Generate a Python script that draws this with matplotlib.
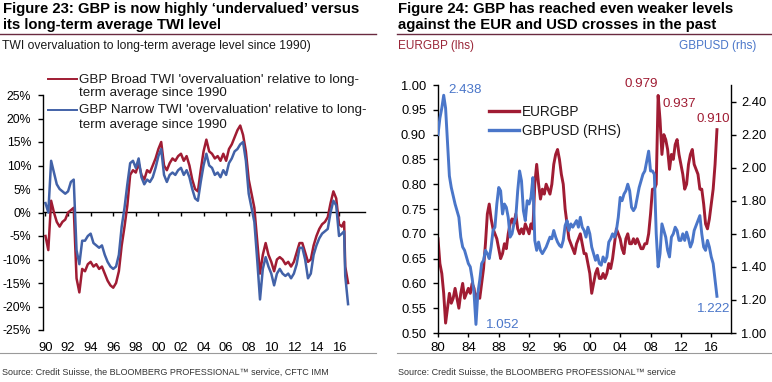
import numpy as np
import matplotlib
matplotlib.use('Agg')
import matplotlib.pyplot as plt
from matplotlib.lines import Line2D

plt.rcParams['font.family'] = ['Liberation Sans', 'DejaVu Sans']
plt.rcParams['axes.unicode_minus'] = False

# ---------------- data: left chart (GBP TWI overvaluation, %) ----------------
left_dates = np.concatenate([np.arange(1990, 2016.3, 0.25), [2016.45, 2016.55, 2016.8]])
twi_broad = [
    -5, -8, 2.5, 0,            # 1990
    -2, -3, -2, -1.5,          # 1991
    0, 0.5, 1, -14,            # 1992
    -17, -12, -12.5, -11,      # 1993
    -10.5, -11.5, -11, -12,    # 1994
    -11.5, -13, -14.5, -15.5,  # 1995
    -16, -15, -12.5, -7,       # 1996
    -3, 1.5, 8, 9,             # 1997
    8.5, 10.5, 8, 7,           # 1998
    9, 8.5, 10, 11.5,          # 1999
    13.5, 15, 10, 9,           # 2000
    10.5, 11.5, 11, 12,        # 2001
    12.5, 11, 12, 10,          # 2002
    7, 5, 4.5, 9,              # 2003
    13, 15.5, 13, 12.5,        # 2004
    11.5, 12, 11, 12.5,        # 2005
    11, 13.5, 14.5, 16,        # 2006
    17.5, 18.5, 16.5, 13,      # 2007
    7, 4, 1, -6,               # 2008
    -13, -9, -6.5, -9,         # 2009
    -10.5, -12.5, -10, -9.5,   # 2010
    -10, -11, -10.5, -11.5,    # 2011
    -10.5, -8.5, -6.5, -6.5,   # 2012
    -8.5, -10.5, -10, -7,      # 2013
    -5, -3.5, -2.5, -2,        # 2014
    -1, 2, 4.5, 3,             # 2015
    -2.5, -3, -2, -11.5, -15,  # 2016
]
twi_narrow = [
    2, 0, 11, 8.5,             # 1990
    6, 5, 4.5, 4,              # 1991
    4.5, 6.5, 7, -8,           # 1992
    -11, -6, -6, -5,           # 1993
    -4.5, -6.5, -7, -7.5,      # 1994
    -7, -9, -10.5, -11.5,      # 1995
    -12, -11.5, -9, -3,        # 1996
    1, 6, 10.5, 11,            # 1997
    9.5, 11.5, 7.5, 6,         # 1998
    7, 6.5, 7.5, 9.5,          # 1999
    12, 13.5, 8, 6.5,          # 2000
    8, 8.5, 8, 9,              # 2001
    9.5, 8, 9, 7.5,            # 2002
    5, 3, 2.5, 6.5,            # 2003
    10, 12.5, 10, 9.5,         # 2004
    8, 8.5, 7.5, 9,            # 2005
    8, 10.5, 11.5, 13,         # 2006
    13.5, 14.5, 15, 11,        # 2007
    4, 1, -2, -10,             # 2008
    -18.5, -12, -9.5, -11.5,   # 2009
    -13, -15.5, -13, -12,      # 2010
    -13, -13.5, -13, -14,      # 2011
    -13, -11, -7.5, -7.5,      # 2012
    -10, -14, -13, -9,         # 2013
    -7, -5.5, -4.5, -4,        # 2014
    -3.5, 0, 2.5, 1.5,         # 2015
    -5, -4.5, -4, -13.5, -19.5,  # 2016
]
left_yticks = [-25, -20, -15, -10, -5, 0, 5, 10, 15, 20, 25]
left_xticks = list(range(1990, 2017, 2))

# ---------------- data: right chart (EURGBP lhs, GBPUSD rhs) ----------------
right_dates = np.arange(1980, 2016.8, 0.25)
eurgbp = [
    0.69, 0.64, 0.62, 0.58,    # 1980
    0.52, 0.55, 0.58, 0.56,    # 1981
    0.57, 0.59, 0.57, 0.55,    # 1982
    0.58, 0.60, 0.57, 0.58,    # 1983
    0.59, 0.58, 0.60, 0.59,    # 1984
    0.56, 0.58, 0.57, 0.60,    # 1985
    0.63, 0.68, 0.74, 0.76,    # 1986
    0.73, 0.71, 0.70, 0.69,    # 1987
    0.67, 0.65, 0.66, 0.68,    # 1988
    0.67, 0.70, 0.72, 0.73,    # 1989
    0.72, 0.74, 0.71, 0.70,    # 1990
    0.71, 0.70, 0.72, 0.71,    # 1991
    0.70, 0.72, 0.71, 0.80,    # 1992
    0.84, 0.80, 0.77, 0.79,    # 1993
    0.78, 0.80, 0.79, 0.78,    # 1994
    0.80, 0.84, 0.86, 0.87,    # 1995
    0.85, 0.82, 0.80, 0.75,    # 1996
    0.72, 0.69, 0.68, 0.67,    # 1997
    0.66, 0.68, 0.69, 0.70,    # 1998
    0.68, 0.66, 0.66, 0.64,    # 1999
    0.62, 0.58, 0.60, 0.62,    # 2000
    0.63, 0.61, 0.61, 0.62,    # 2001
    0.61, 0.62, 0.64, 0.63,    # 2002
    0.65, 0.68, 0.71, 0.70,    # 2003
    0.69, 0.67, 0.66, 0.69,    # 2004
    0.70, 0.68, 0.68, 0.69,    # 2005
    0.68, 0.69, 0.68, 0.67,    # 2006
    0.67, 0.68, 0.68, 0.70,    # 2007
    0.74, 0.79, 0.79, 0.80,    # 2008
    0.979, 0.93, 0.86, 0.90,   # 2009
    0.89, 0.87, 0.83, 0.86,    # 2010
    0.85, 0.88, 0.89, 0.86,    # 2011
    0.84, 0.82, 0.79, 0.80,    # 2012
    0.84, 0.86, 0.87, 0.84,    # 2013
    0.83, 0.82, 0.79, 0.79,    # 2014
    0.76, 0.72, 0.71, 0.73,    # 2015
    0.76, 0.79, 0.84, 0.910,   # 2016
]
gbpusd = [
    2.20, 2.30, 2.36, 2.438,   # 1980
    2.36, 2.15, 1.95, 1.88,    # 1981
    1.83, 1.78, 1.74, 1.70,    # 1982
    1.58, 1.52, 1.50, 1.46,    # 1983
    1.42, 1.40, 1.33, 1.24,    # 1984
    1.052, 1.24, 1.32, 1.42,   # 1985
    1.44, 1.50, 1.48, 1.45,    # 1986
    1.52, 1.62, 1.64, 1.78,    # 1987
    1.88, 1.86, 1.72, 1.78,    # 1988
    1.76, 1.70, 1.58, 1.60,    # 1989
    1.66, 1.70, 1.86, 1.98,    # 1990
    1.92, 1.74, 1.68, 1.80,    # 1991
    1.78, 1.82, 1.94, 1.56,    # 1992
    1.50, 1.55, 1.50, 1.48,    # 1993
    1.50, 1.52, 1.55, 1.58,    # 1994
    1.57, 1.62, 1.58, 1.55,    # 1995
    1.53, 1.52, 1.56, 1.65,    # 1996
    1.68, 1.62, 1.66, 1.64,    # 1997
    1.66, 1.68, 1.64, 1.70,    # 1998
    1.64, 1.62, 1.58, 1.64,    # 1999
    1.60, 1.52, 1.48, 1.44,    # 2000
    1.47, 1.42, 1.41, 1.46,    # 2001
    1.43, 1.46, 1.55, 1.57,    # 2002
    1.60, 1.58, 1.62, 1.70,    # 2003
    1.82, 1.80, 1.84, 1.86,    # 2004
    1.90, 1.86, 1.76, 1.74,    # 2005
    1.76, 1.82, 1.88, 1.92,    # 2006
    1.96, 1.98, 2.04, 2.10,    # 2007
    1.98, 1.98, 1.96, 1.60,    # 2008
    1.40, 1.48, 1.66, 1.62,    # 2009
    1.58, 1.50, 1.46, 1.58,    # 2010
    1.60, 1.64, 1.62, 1.56,    # 2011
    1.56, 1.60, 1.56, 1.61,    # 2012
    1.57, 1.52, 1.55, 1.62,    # 2013
    1.65, 1.68, 1.71, 1.60,    # 2014
    1.52, 1.50, 1.56, 1.52,    # 2015
    1.46, 1.42, 1.32, 1.222,   # 2016
]
right_xticks = list(range(1980, 2017, 4))
eur_ticks = [0.50, 0.55, 0.60, 0.65, 0.70, 0.75, 0.80, 0.85, 0.90, 0.95, 1.00]
usd_ticks = [1.00, 1.20, 1.40, 1.60, 1.80, 2.00, 2.20, 2.40]
# annotated points: (label, date, value, series)
annots = [
    ("2.438", 1980.75, 2.438, 'usd', (3.6, 1.9), 'left'),
    ("1.052", 1985.0, 1.052, 'usd', (7.3, -2.4), 'left'),
    ("1.222", 2016.75, 1.222, 'usd', (-2.6, -11.1), 'center'),
    ("0.979", 2009.0, 0.979, 'eur', (0.2, 6.0), 'right'),
    ("0.937", 2009.25, 0.93, 'eur', (1.7, 9.4), 'left'),
    ("0.910", 2016.75, 0.910, 'eur', (-3.0, 5.7), 'center'),
]

# ---------------- figure ----------------
W, H = 772, 382
fig = plt.figure(figsize=(W / 100, H / 100), dpi=100)


def fx(px):
    return px / W


def fy(py):
    return 1 - py / H


RED = '#a01c33'
BLUE_L = '#4262a8'
BLUE_R = '#4a76c9'
RULE = '#6a2a40'
GREY = '#9a9a9a'

# ---------- left chart ----------
axL = fig.add_axes([fx(43), fy(330), fx(365) - fx(43), fy(95) - fy(330)])
axL.plot(left_dates, twi_broad, color=RED, lw=1.8)
axL.plot(left_dates, twi_narrow, color=BLUE_L, lw=1.8)
axL.set_xlim(1989.78, 2018.3)
axL.set_ylim(-25, 25)
axL.set_yticks(left_yticks)
axL.set_yticklabels([f"{v}%" for v in left_yticks])
for s in ['top', 'right', 'bottom']:
    axL.spines[s].set_visible(False)
axL.spines['left'].set_linewidth(1.0)
axL.tick_params(axis='y', direction='out', length=3.5, width=1, pad=5, labelsize=8.8)
axL.set_xticks(left_xticks)
axL.set_xticklabels([f"{y % 100:02d}" for y in left_xticks])
axL.tick_params(axis='x', length=0, pad=8.5, labelsize=9.4)
sec = axL.secondary_xaxis(0.5)
sec.set_alignment('bottom')
sec.set_xticks(left_xticks)
sec.tick_params(axis='x', direction='out', length=3, width=1, labelbottom=False, labeltop=False)
sec.spines['bottom'].set_linewidth(1.0)

# ---------- right chart ----------
axR = fig.add_axes([fx(438), fy(333), fx(731) - fx(438), fy(85) - fy(333)])
lr, = axR.plot(right_dates, eurgbp, color=RED, lw=2.1)
axR2 = axR.twinx()
lb, = axR2.plot(right_dates, gbpusd, color=BLUE_R, lw=2.1)
axR.set_xlim(1980, 2018.6)
axR.set_ylim(0.5, 1.0)
axR2.set_ylim(1.0, 2.5)
axR.set_yticks(eur_ticks)
axR.set_yticklabels([f"{v:.2f}" for v in eur_ticks])
axR2.set_yticks(usd_ticks)
axR2.set_yticklabels([f"{v:.2f}" for v in usd_ticks])
axR.set_xticks(right_xticks)
axR.set_xticklabels([f"{y % 100:02d}" for y in right_xticks])
axR.spines['top'].set_visible(False)
axR.spines['right'].set_visible(False)
for s in ['top', 'left', 'bottom']:
    axR2.spines[s].set_visible(False)
for sp in [axR.spines['left'], axR.spines['bottom'], axR2.spines['right']]:
    sp.set_linewidth(1.0)
axR.tick_params(axis='y', direction='out', length=3.5, width=1, pad=5, labelsize=9.3)
axR2.tick_params(axis='y', direction='out', length=3.5, width=1, pad=4, labelsize=9.3)
axR.tick_params(axis='x', direction='out', length=3, width=1, pad=3.5, labelsize=9.5)

for label, d, v, ser, off, ha in annots:
    ax = axR2 if ser == 'usd' else axR
    col = BLUE_R if ser == 'usd' else RED
    ax.annotate(label, xy=(d, v), xytext=off, textcoords='offset points',
                ha=ha, va='baseline', fontsize=9.6, color=col)

# ---------- legends (manual, to mimic wrapped labels) ----------
def hline(x0, x1, y, color, lw):
    fig.add_artist(Line2D([fx(x0), fx(x1)], [fy(y), fy(y)], color=color, lw=lw,
                          transform=fig.transFigure))


hline(48, 77, 79, RED, 1.4)
hline(48, 77, 109.5, BLUE_L, 1.4)
lkw = dict(fontsize=9.6, ha='left', va='baseline', color='#1a1a1a')
fig.text(fx(79), fy(83.3), "GBP Broad TWI 'overvaluation' relative to long-", **lkw)
fig.text(fx(79), fy(96), "term average since 1990", **lkw)
fig.text(fx(79), fy(113.3), "GBP Narrow TWI 'overvaluation' relative to long-", **lkw)
fig.text(fx(79), fy(128.5), "term average since 1990", **lkw)

hline(489, 519, 111, RED, 2.4)
hline(489, 519, 130, BLUE_R, 2.4)
rkw = dict(fontsize=9.8, ha='left', va='baseline', color='#1a1a1a')
fig.text(fx(522), fy(115.5), "EURGBP", **rkw)
fig.text(fx(522), fy(134.5), "GBPUSD (RHS)", **rkw)

# ---------- titles, subtitles, rules, sources ----------
tkw = dict(fontsize=10.7, fontweight='bold', ha='left', va='baseline', color='black')
fig.text(fx(3), fy(13.3), "Figure 23: GBP is now highly \u2018undervalued\u2019 versus", **tkw)
fig.text(fx(3), fy(29.3), "its long-term average TWI level", **tkw)
fig.text(fx(397.5), fy(13.3), "Figure 24: GBP has reached even weaker levels", **tkw)
fig.text(fx(397.5), fy(29.3), "against the EUR and USD crosses in the past", **tkw)

hline(0, 376, 33.7, RULE, 1.0)
hline(397, 772, 33.7, RULE, 1.0)

fig.text(fx(2), fy(49), "TWI overvaluation to long-term average level since 1990)",
         color='#1a1a1a', fontsize=8.7, ha='left', va='baseline')
fig.text(fx(398), fy(49.3), "EURGBP (lhs)", color='#9a2638', fontsize=8.5, ha='left', va='baseline')
fig.text(fx(756), fy(49.3), "GBPUSD (rhs)", color=BLUE_R, fontsize=8.5, ha='right', va='baseline')

hline(0, 376, 352.7, GREY, 0.8)
hline(397, 772, 352.7, GREY, 0.8)
srckw = dict(fontsize=6.45, ha='left', va='baseline', color='#333333')
fig.text(fx(2), fy(375.3), "Source: Credit Suisse, the BLOOMBERG PROFESSIONAL\u2122 service, CFTC IMM", **srckw)
fig.text(fx(398), fy(375.3), "Source: Credit Suisse, the BLOOMBERG PROFESSIONAL\u2122 service", **srckw)

fig.savefig('out.png', dpi=100)
